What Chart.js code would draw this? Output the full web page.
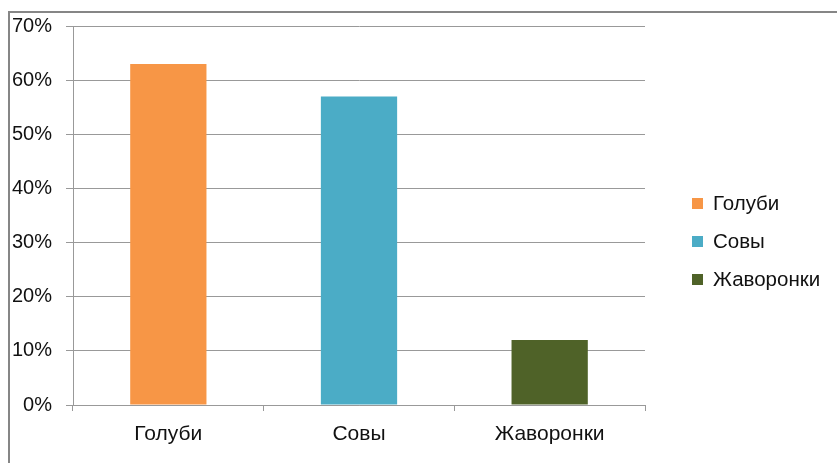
<!DOCTYPE html>
<html>
<head>
<meta charset="utf-8">
<script src="https://cdn.jsdelivr.net/npm/chart.js@4"></script>
<style>
    html, body { margin: 0; padding: 0; background: #fff; overflow: hidden; }
    #wrap { position: relative; width: 837px; height: 463px; }
    #frame {
        position: absolute; left: 8px; top: 11px; width: 900px; height: 500px;
        border: 2px solid #868686; pointer-events: none;
    }
</style>
</head>
<body>
<div id="wrap">
    <canvas id="chart" width="837" height="463"></canvas>
    <div id="frame"></div>
</div>
<script>
const categories = ['Голуби', 'Совы', 'Жаворонки'];
const values = [63, 57, 12];
const barColors = ['#F79646', '#4BACC6', '#4F6228'];
const yTicks = [0, 10, 20, 30, 40, 50, 60, 70];

const fontName = '"Liberation Sans", Arial, sans-serif';

// legend drawn at the right, like the original
const sideLegend = {
    id: 'sideLegend',
    afterDraw(chart) {
        const ctx = chart.ctx;
        ctx.save();
        ctx.font = '20.5px ' + fontName;
        ctx.textBaseline = 'middle';
        ctx.textAlign = 'left';
        categories.forEach((name, i) => {
            const y = 203 + i * 38;
            ctx.fillStyle = barColors[i];
            ctx.fillRect(692, y - 5, 11, 11);
            ctx.fillStyle = '#111';
            ctx.fillText(name, 713, y + 1);
        });
        ctx.restore();
    }
};

new Chart(document.getElementById('chart'), {
    type: 'bar',
    data: {
        labels: categories,
        datasets: [{
            data: values,
            backgroundColor: barColors,
            borderWidth: 0,
            barPercentage: 0.4,
            categoryPercentage: 1
        }]
    },
    options: {
        responsive: false,
        animation: false,
        layout: { padding: { top: 25, right: 192, bottom: 0, left: 0 } },
        plugins: {
            legend: { display: false },
            tooltip: { enabled: false }
        },
        scales: {
            x: {
                grid: {
                    offset: true,
                    drawOnChartArea: false,
                    drawTicks: true,
                    tickLength: 6,
                    color: '#999'
                },
                border: { color: '#999', width: 1 },
                ticks: {
                    color: '#111',
                    padding: 11,
                    font: { family: fontName, size: 21 }
                },
                afterFit(scale) { scale.height = 58; }
            },
            y: {
                min: 0,
                max: 70,
                afterBuildTicks(scale) { scale.ticks = yTicks.map(v => ({ value: v })); },
                grid: { color: '#999', tickLength: 7 },
                border: { color: '#999', width: 1 },
                ticks: {
                    color: '#111',
                    padding: 14,
                    font: { family: fontName, size: 20 },
                    callback: v => v + '%'
                },
                afterFit(scale) { scale.width = 73; }
            }
        }
    },
    plugins: [sideLegend]
});
</script>
</body>
</html>
